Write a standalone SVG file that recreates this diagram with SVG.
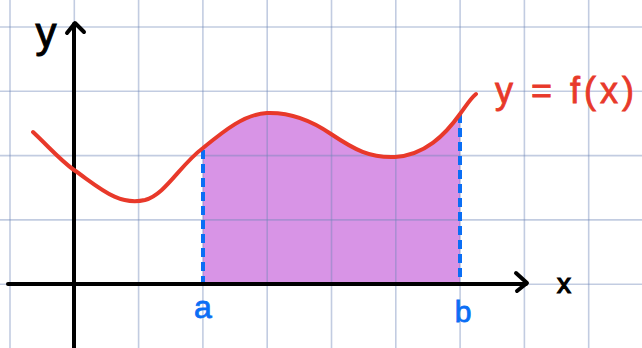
<svg xmlns="http://www.w3.org/2000/svg" width="642" height="348" viewBox="0 0 642 348">
<style>
.grid line{stroke:#6e86b8;stroke-opacity:0.42;stroke-width:1.6}
.axis{stroke:#000;stroke-width:4;fill:none;stroke-linecap:round;stroke-linejoin:round}
.curve{stroke:#e8392a;stroke-width:4;fill:none;stroke-linecap:round}
.dash{stroke:#0a6ef5;stroke-width:4;stroke-dasharray:9 5}
.lbl{font-family:"Liberation Sans",Arial,sans-serif}
</style>
<rect width="642" height="348" fill="#fff"/>
<g id="area">
<path d="M203,284 L203,148 C225,130 245,114 267,113 C295,112 318,125 331,134 C355,150 370,158 395,157 C425,155 445,135 460,112 L460,284 Z" fill="#d894e6"/>
</g>
<g class="grid" id="grid">
<line x1="10" y1="0" x2="10" y2="348"/>
<line x1="74.3" y1="0" x2="74.3" y2="348"/>
<line x1="138.6" y1="0" x2="138.6" y2="348"/>
<line x1="202.9" y1="0" x2="202.9" y2="348"/>
<line x1="267.2" y1="0" x2="267.2" y2="348"/>
<line x1="331.5" y1="0" x2="331.5" y2="348"/>
<line x1="395.8" y1="0" x2="395.8" y2="348"/>
<line x1="460.1" y1="0" x2="460.1" y2="348"/>
<line x1="524.4" y1="0" x2="524.4" y2="348"/>
<line x1="588.7" y1="0" x2="588.7" y2="348"/>
<line x1="0" y1="27" x2="642" y2="27"/>
<line x1="0" y1="91.3" x2="642" y2="91.3"/>
<line x1="0" y1="155.6" x2="642" y2="155.6"/>
<line x1="0" y1="219.9" x2="642" y2="219.9"/>
<line x1="0" y1="284.2" x2="642" y2="284.2"/>
</g>
<g id="bounds">
<line class="dash" x1="203" y1="150" x2="203" y2="284"/>
<line class="dash" x1="460" y1="114" x2="460" y2="284"/>
</g>
<g id="axes">
<line class="axis" x1="8" y1="284" x2="526" y2="284"/>
<polyline class="axis" points="516,273 527,283 517,291"/>
<line class="axis" x1="74" y1="24" x2="74" y2="348"/>
<polyline class="axis" points="67,33 75,23 84,32"/>
</g>
<g id="curve">
<path class="curve" d="M33,132 C50,148 60,160 74,170 C100,188 118,206 145,200 C165,195 180,165 203,148 C225,130 245,114 267,113 C295,112 318,125 331,134 C355,150 370,158 395,157 C425,155 445,135 460,114 C466,106 470,99 476,94"/>
</g>
<g id="labels">
<text class="lbl" x="46" y="47" font-size="42" text-anchor="middle" fill="#000" stroke="#000" stroke-width="1">y</text>
<text class="lbl" x="564" y="293" font-size="28" text-anchor="middle" fill="#000" stroke="#000" stroke-width="1.2">x</text>
<text class="lbl" x="203" y="318" font-size="32" text-anchor="middle" fill="#0a6ef5" stroke="#0a6ef5" stroke-width="0.8">a</text>
<text class="lbl" x="463" y="322" font-size="30" text-anchor="middle" fill="#0a6ef5" stroke="#0a6ef5" stroke-width="0.8">b</text>
<text class="lbl" x="495" y="103" font-size="36" letter-spacing="4" fill="#e8392a" stroke="#e8392a" stroke-width="0.8">y = f(x)</text>
</g>
</svg>
